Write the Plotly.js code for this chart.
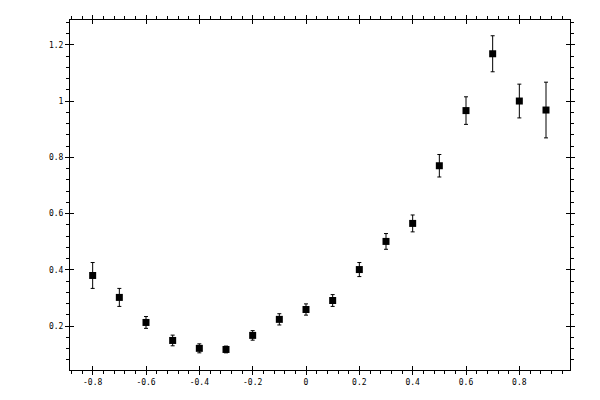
<!DOCTYPE html>
<html>
<head>
<meta charset="utf-8">
<script src="https://cdn.plot.ly/plotly-3.0.1.min.js"></script>
<style>
  html, body { margin: 0; padding: 0; background: #fff; }
  #graphDiv { width: 600px; height: 400px; }
</style>
</head>
<body>
<div id="graphDiv"></div>
<script>
let xVals = [-0.8, -0.7, -0.6, -0.5, -0.4, -0.3, -0.2, -0.1, 0.0, 0.1, 0.2, 0.3, 0.4, 0.5, 0.6, 0.7, 0.8, 0.9];
let yVals = [0.380, 0.302, 0.213, 0.149, 0.121, 0.117, 0.167, 0.224, 0.259, 0.291, 0.401, 0.501, 0.565, 0.770, 0.966, 1.168, 1.000, 0.968];
let yErr  = [0.046, 0.032, 0.021, 0.019, 0.016, 0.012, 0.017, 0.020, 0.020, 0.021, 0.025, 0.028, 0.030, 0.040, 0.049, 0.064, 0.060, 0.099];

// tick labels (plain hyphen, not the unicode minus)
let xTickVals = [-0.8, -0.6, -0.4, -0.2, 0, 0.2, 0.4, 0.6, 0.8];
let xTickText = ['-0.8', '-0.6', '-0.4', '-0.2', '0', '0.2', '0.4', '0.6', '0.8'];
let yTickVals = [0.2, 0.4, 0.6, 0.8, 1, 1.2];
let yTickText = ['0.2', '0.4', '0.6', '0.8', '1', '1.2'];

function init() {
    let graphDiv = document.getElementById('graphDiv');
    let xRange = [-0.885, 0.99];
    let yRange = [0.044, 1.288];
    let tickFont = {family: 'DejaVu Sans Mono', size: 8, color: '#000'};

    let data = [{
        x: xVals,
        y: yVals,
        type: 'scatter',
        mode: 'markers',
        marker: {symbol: 'square', size: 7, color: '#000'},
        error_y: {type: 'data', array: yErr, visible: true, color: '#000', thickness: 1, width: 2},
        hoverinfo: 'skip'
    }, {
        // empty trace so the overlay axes (inner half of the major ticks) get drawn
        x: [],
        y: [],
        xaxis: 'x2',
        yaxis: 'y2',
        type: 'scatter',
        mode: 'markers',
        hoverinfo: 'skip'
    }];

    let baseAxis = {
        showgrid: false,
        zeroline: false,
        autorange: false,
        fixedrange: true
    };

    let layout = {
        width: 600,
        height: 400,
        margin: {l: 70, r: 30, t: 20, b: 30, pad: 0},
        paper_bgcolor: '#fff',
        plot_bgcolor: '#fff',
        showlegend: false,
        xaxis: Object.assign({}, baseAxis, {
            range: xRange,
            showline: true, linecolor: '#000', linewidth: 1, mirror: 'allticks',
            ticks: 'outside', ticklen: 4, tickwidth: 1, tickcolor: '#000',
            tickmode: 'array', tickvals: xTickVals, ticktext: xTickText,
            tickfont: tickFont,
            minor: {ticks: 'outside', ticklen: 3, tickwidth: 1, tickcolor: '#000', tick0: 0, dtick: 0.04, showgrid: false}
        }),
        yaxis: Object.assign({}, baseAxis, {
            range: yRange,
            showline: true, linecolor: '#000', linewidth: 1, mirror: 'allticks',
            ticks: 'outside', ticklen: 4, tickwidth: 1, tickcolor: '#000',
            tickmode: 'array', tickvals: yTickVals, ticktext: yTickText,
            tickfont: tickFont,
            minor: {ticks: 'outside', ticklen: 3, tickwidth: 1, tickcolor: '#000', tick0: 0, dtick: 0.04, showgrid: false}
        }),
        xaxis2: Object.assign({}, baseAxis, {
            range: xRange, overlaying: 'x', anchor: 'y2',
            showline: false, mirror: 'ticks',
            ticks: 'inside', ticklen: 4, tickwidth: 1, tickcolor: '#000',
            tickmode: 'array', tickvals: xTickVals, showticklabels: false
        }),
        yaxis2: Object.assign({}, baseAxis, {
            range: yRange, overlaying: 'y', anchor: 'x2',
            showline: false, mirror: 'ticks',
            ticks: 'inside', ticklen: 4, tickwidth: 1, tickcolor: '#000',
            tickmode: 'array', tickvals: yTickVals, showticklabels: false
        })
    };

    Plotly.newPlot(graphDiv, data, layout, {staticPlot: true, displayModeBar: false});
}

init();
</script>
</body>
</html>
